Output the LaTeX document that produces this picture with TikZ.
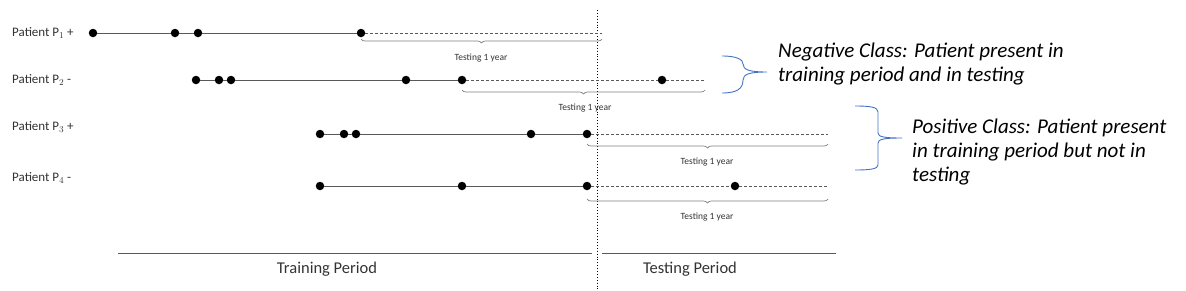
\documentclass[tikz,border=0pt]{standalone}
\usepackage{fontspec}
\setmainfont{Carlito}
\usetikzlibrary{decorations.pathreplacing}
\definecolor{linegray}{HTML}{595959}
\definecolor{bracegray}{HTML}{7F7F7F}
\definecolor{braceblue}{HTML}{4472C4}
\begin{document}
\begin{tikzpicture}[x=1pt,y=-1pt,
  dot/.style={circle,fill=black,inner sep=0pt,minimum size=8.5pt},
  tl/.style={draw=linegray,line width=0.9pt},
  fut/.style={draw=linegray,line width=0.8pt,dash pattern=on 3pt off 2pt},
  gbrace/.style={draw=bracegray,line width=0.7pt,decorate,decoration={brace,mirror,amplitude=4pt}},
  lbl/.style={anchor=west,inner sep=0pt,font=\fontsize{13}{15}\selectfont,text=black!80},
  tst/.style={inner sep=0pt,font=\fontsize{9.5}{11}\selectfont,text=black!80},
  per/.style={inner sep=0pt,font=\fontsize{16.5}{19}\selectfont,text=black!80},
  cls/.style={anchor=base west,inner sep=0pt,font=\fontsize{21}{25}\selectfont\itshape},
  bb/.style={draw=braceblue,line width=0.9pt}]
\useasboundingbox (0,0) rectangle (1186,290);
% vertical divider
\coordinate (vt) at (597,10);
\coordinate (vb) at (597,290);
\draw[line width=0.9pt,dotted] (vt) -- (vb);
% Row 1
\node[lbl] (l1) at (12,33) {Patient P$_1$ +};
\node[dot] (a1) at (93,33) {};
\node[dot] (a2) at (175,33) {};
\node[dot] (a3) at (198,33) {};
\node[dot] (a4) at (361,33) {};
\coordinate (a5) at (602,33);
\draw[tl] (a1) -- (a2) -- (a3) -- (a4);
\draw[fut] (a4) -- (a5);
\coordinate (b1s) at (361,39);
\coordinate (b1e) at (602,39);
\draw[gbrace] (b1s) -- (b1e);
\node[tst] (t1) at (481,58) {Testing 1 year};
% Row 2
\node[lbl] (l2) at (12,80) {Patient P$_2$ -};
\node[dot] (c1) at (196,80) {};
\node[dot] (c2) at (219,80) {};
\node[dot] (c3) at (231,80) {};
\node[dot] (c4) at (406,80) {};
\node[dot] (c5) at (462,80) {};
\node[dot] (c6) at (662,80) {};
\coordinate (c7) at (704,80);
\draw[tl] (c1) -- (c2) -- (c3) -- (c4) -- (c5);
\draw[fut] (c5) -- (c6) -- (c7);
\coordinate (b2s) at (462,90);
\coordinate (b2e) at (705,90);
\draw[gbrace] (b2s) -- (b2e);
\node[tst] (t2) at (585,108) {Testing 1 year};
% Row 3
\node[lbl] (l3) at (12,127) {Patient P$_3$ +};
\node[dot] (d1) at (320,134) {};
\node[dot] (d2) at (344,134) {};
\node[dot] (d3) at (356,134) {};
\node[dot] (d4) at (531,134) {};
\node[dot] (d5) at (587,134) {};
\coordinate (d6) at (828,134);
\draw[tl] (d1) -- (d2) -- (d3) -- (d4) -- (d5);
\draw[fut] (d5) -- (d6);
\coordinate (b3s) at (587,144);
\coordinate (b3e) at (828,144);
\draw[gbrace] (b3s) -- (b3e);
\node[tst] (t3) at (707,162) {Testing 1 year};
% Row 4
\node[lbl] (l4) at (12,178) {Patient P$_4$ -};
\node[dot] (e1) at (320,186) {};
\node[dot] (e2) at (462,186) {};
\node[dot] (e3) at (587,186) {};
\node[dot] (e4) at (735,186) {};
\coordinate (e5) at (828,186);
\draw[tl] (e1) -- (e2) -- (e3);
\draw[fut] (e3) -- (e4) -- (e5);
\coordinate (b4s) at (587,199);
\coordinate (b4e) at (828,199);
\draw[gbrace] (b4s) -- (b4e);
\node[tst] (t4) at (707,217) {Testing 1 year};
% periods
\coordinate (tr1) at (118,253);
\coordinate (tr2) at (592,253);
\coordinate (ts1) at (602,253);
\coordinate (ts2) at (836,253);
\draw[tl] (tr1) -- (tr2);
\draw[tl] (ts1) -- (ts2);
\node[per] (trn) at (327,269) {Training Period};
\node[per] (tsn) at (690,269) {Testing Period};
% blue braces
\draw[bb] (722,56) .. controls (738,56) and (743,60) .. (743,64)
  .. controls (743,70) and (750,72) .. (767,72)
  .. controls (750,72) and (743,74) .. (743,80)
  .. controls (743,88) and (738,93) .. (722,93);
\draw[bb] (855,106) .. controls (870,106) and (878,107) .. (878,112)
  -- (878,133) .. controls (878,137) and (885,138) .. (902,138)
  .. controls (885,138) and (878,139) .. (878,143)
  -- (878,165) .. controls (878,169) and (870,170) .. (855,170);
% class texts
\node[cls] (neg1) at (778,57) {Negative Class: Patient present in};
\node[cls] (neg2) at (778,81) {training period and in testing};
\node[cls] (pos1) at (912,133) {Positive Class: Patient present};
\node[cls] (pos2) at (912,157) {in training period but not in};
\node[cls] (pos3) at (912,181) {testing};
\end{tikzpicture}
\end{document}
